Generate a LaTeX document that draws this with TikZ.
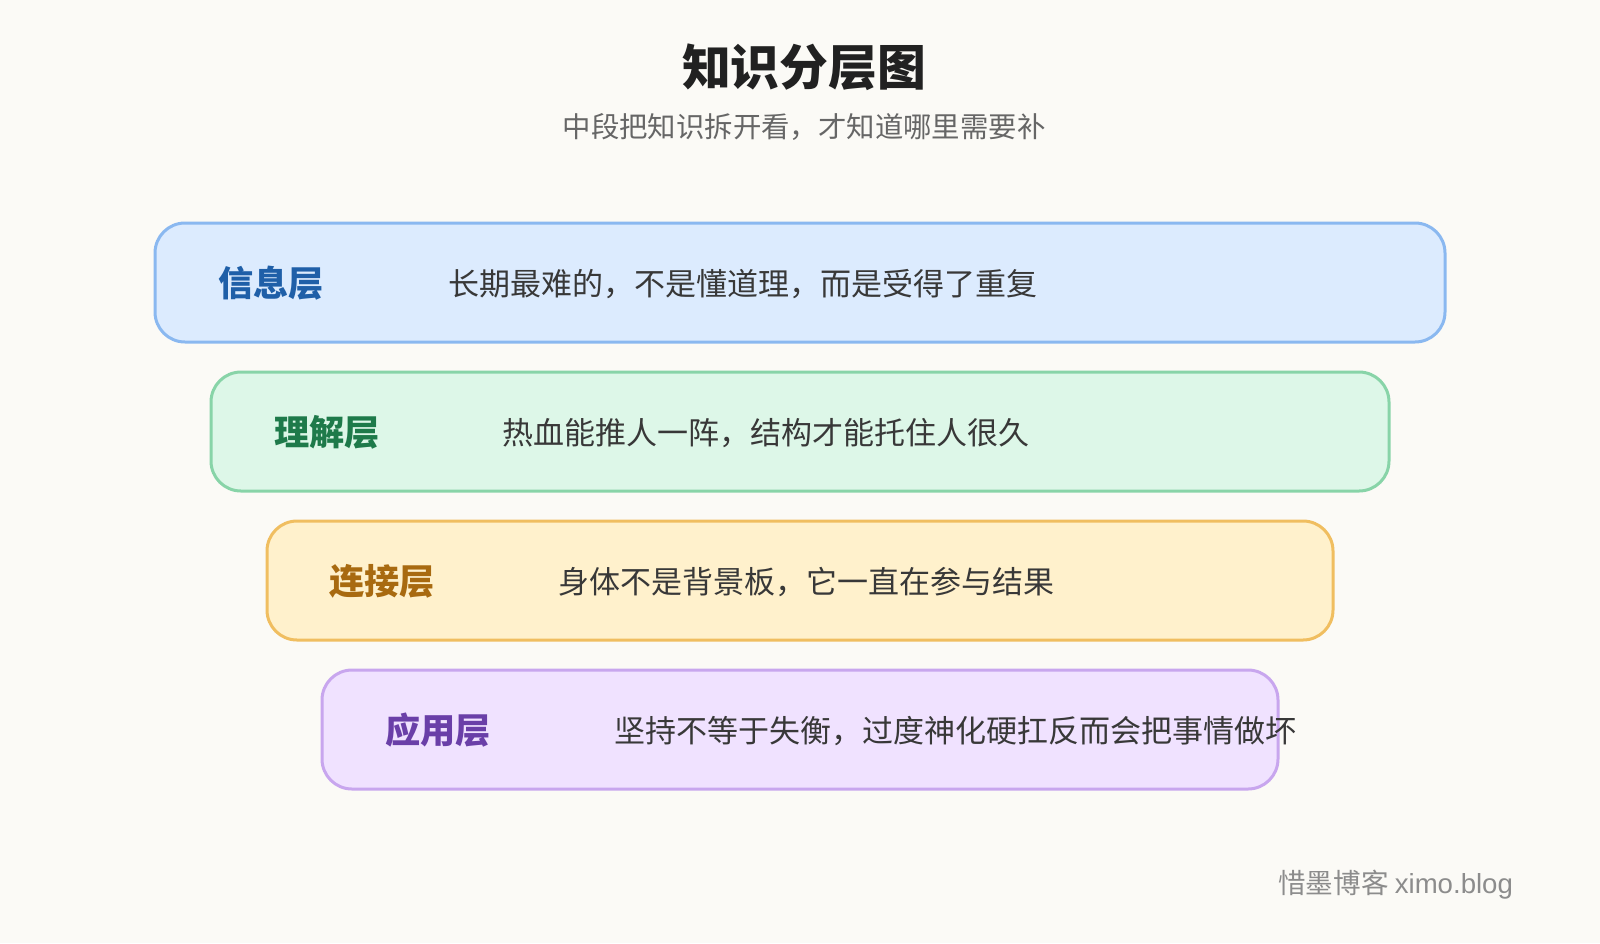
\documentclass[tikz,border=0pt]{standalone}
\usepackage{fontspec}
\setmainfont{Noto Sans CJK SC}
\definecolor{bg}{HTML}{FBFAF6}
\definecolor{f1}{HTML}{DCEBFE}\definecolor{s1}{HTML}{8AB8F0}\definecolor{t1}{HTML}{1F5FA8}
\definecolor{f2}{HTML}{DDF7E8}\definecolor{s2}{HTML}{88D4A8}\definecolor{t2}{HTML}{1E7A4A}
\definecolor{f3}{HTML}{FFF1CC}\definecolor{s3}{HTML}{F0BE60}\definecolor{t3}{HTML}{A86A10}
\definecolor{f4}{HTML}{F0E2FF}\definecolor{s4}{HTML}{C8A6EE}\definecolor{t4}{HTML}{6A3FA8}
\tikzset{layer/.style={rounded corners=15pt,line width=1.5pt},
lbl/.style={anchor=west,font=\fontsize{17.6}{19}\selectfont\bfseries},
body/.style={anchor=west,font=\fontsize{15.5}{17}\selectfont,text=black!78}}
\begin{document}
\begin{tikzpicture}[x=0.5pt,y=-0.5pt]
\fill[bg] (0,0) rectangle (1600,943);
\useasboundingbox (0,0) rectangle (1600,943);
\node[font=\fontsize{24.4}{26}\selectfont\bfseries,text=black!87] (title) at (804,67) {知识分层图};
\node[font=\fontsize{14.2}{16}\selectfont,text=black!60] (sub) at (804,127) {中段把知识拆开看，才知道哪里需要补};
\draw[layer,fill=f1,draw=s1] (155,223) rectangle (1445,342);
\node[lbl,text=t1] (l1) at (211,283) {信息层};
\node[body] (b1) at (441,284) {长期最难的，不是懂道理，而是受得了重复};
\draw[layer,fill=f2,draw=s2] (211,372) rectangle (1389,491);
\node[lbl,text=t2] (l2) at (267,432) {理解层};
\node[body] (b2) at (495,433) {热血能推人一阵，结构才能托住人很久};
\draw[layer,fill=f3,draw=s3] (267,521) rectangle (1333,640);
\node[lbl,text=t3] (l3) at (322,581) {连接层};
\node[body] (b3) at (551,582) {身体不是背景板，它一直在参与结果};
\draw[layer,fill=f4,draw=s4] (322,670) rectangle (1278,789);
\node[lbl,text=t4] (l4) at (378,730) {应用层};
\node[body] (b4) at (607,731) {坚持不等于失衡，过度神化硬扛反而会把事情做坏};
\node[anchor=east,font=\fontsize{13.8}{15}\selectfont,text=black!45] (wm) at (1520,885) {惜墨博客 \fontspec{Liberation Sans}ximo.blog};
\end{tikzpicture}
\end{document}
